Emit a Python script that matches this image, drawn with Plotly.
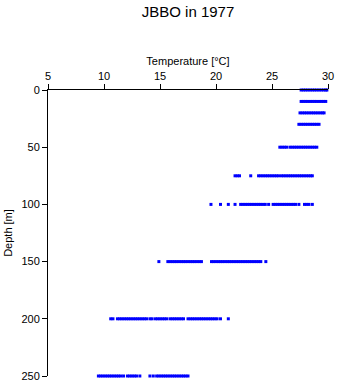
import plotly.graph_objects as go

depths = [0, 10, 20, 30, 50, 75, 100, 150, 200, 250]

temps_0 = [27.6, 27.8, 28.0, 28.2, 28.4, 28.6, 28.8, 29.0, 29.2, 29.4, 29.6, 29.8, 29.9]
temps_10 = [27.6, 27.8, 28.0, 28.2, 28.4, 28.6, 28.8, 29.0, 29.2, 29.4, 29.6, 29.8]
temps_20 = [27.5, 27.7, 27.9, 28.1, 28.3, 28.5, 28.7, 28.9, 29.1, 29.3, 29.5, 29.65]
temps_30 = [27.4, 27.6, 27.8, 28.0, 28.2, 28.4, 28.6, 28.8, 29.0, 29.2]
temps_50 = [25.7, 25.9, 26.1, 26.3, 26.6, 26.8, 27.0, 27.2, 27.4, 27.6, 27.8, 28.0,
            28.2, 28.4, 28.6, 28.8, 29.0]
temps_75 = [21.7, 21.9, 22.1, 23.1, 23.8, 24.0, 24.2, 24.4, 24.6, 24.8, 25.0, 25.2,
            25.4, 25.6, 25.85, 26.05, 26.25, 26.45, 26.65, 26.85, 27.05, 27.25,
            27.45, 27.65, 27.85, 28.05, 28.25, 28.45, 28.6]
temps_100 = [19.55, 20.4, 21.1, 21.7, 22.2, 22.4, 22.6, 22.8, 23.0, 23.2, 23.4, 23.6,
             23.8, 24.0, 24.2, 24.4, 24.7, 25.1, 25.3, 25.5, 25.7, 25.9, 26.1, 26.3,
             26.5, 26.7, 26.9, 27.1, 27.4, 27.9, 28.1, 28.3, 28.6]
temps_150 = [14.9, 15.7, 15.9, 16.1, 16.3, 16.5, 16.7, 16.9, 17.1, 17.3, 17.5, 17.7,
             17.9, 18.1, 18.3, 18.5, 18.7, 19.6, 19.8, 20.0, 20.2, 20.4, 20.6, 20.8,
             21.0, 21.2, 21.4, 21.6, 21.8, 22.0, 22.2, 22.4, 22.6, 22.8, 23.0, 23.2,
             23.4, 23.6, 23.8, 24.0, 24.45]
temps_200 = [10.6, 10.8, 11.2, 11.4, 11.6, 11.8, 12.0, 12.2, 12.4, 12.6, 12.8, 13.0,
             13.2, 13.4, 13.6, 13.8, 14.1, 14.3, 14.6, 14.8, 15.0, 15.2, 15.4, 15.6,
             15.9, 16.1, 16.3, 16.5, 16.7, 16.9, 17.1, 17.5, 17.7, 17.9, 18.1, 18.3,
             18.5, 18.7, 18.9, 19.1, 19.3, 19.5, 19.7, 19.9, 20.1, 20.4, 21.1]
temps_250 = [9.5, 9.7, 9.9, 10.1, 10.3, 10.5, 10.7, 10.9, 11.1, 11.3, 11.5, 11.75,
             12.1, 12.3, 12.5, 12.7, 12.9, 13.2, 14.1, 14.4, 14.7, 14.9, 15.1, 15.3,
             15.5, 15.7, 15.9, 16.1, 16.3, 16.5, 16.7, 16.9, 17.1, 17.3, 17.5]

temp_lists = [temps_0, temps_10, temps_20, temps_30, temps_50, temps_75,
              temps_100, temps_150, temps_200, temps_250]

x_ticks = [5, 10, 15, 20, 25, 30]
y_ticks = [0, 50, 100, 150, 200, 250]

xs, ys = [], []
for d, tl in zip(depths, temp_lists):
    xs.extend(tl)
    ys.extend([d] * len(tl))

fig = go.Figure()
fig.add_trace(go.Scatter(
    x=xs, y=ys, mode="markers",
    marker=dict(symbol="square", size=3, color="#0000FF", line=dict(width=0)),
    cliponaxis=False, showlegend=False, hoverinfo="x+y",
))

font = "Liberation Sans, Arial, sans-serif"
fig.update_layout(
    width=341, height=384,
    margin=dict(l=48, r=13, t=90, b=8, autoexpand=False),
    paper_bgcolor="white", plot_bgcolor="white",
    font=dict(family=font, size=11, color="black"),
    title=dict(text="JBBO in 1977", x=0.5, xref="paper", xanchor="center",
               y=1 - 12 / 384, yref="container", yanchor="middle",
               font=dict(family=font, size=15, color="black")),
    xaxis=dict(
        side="top", range=[5, 30], tickvals=x_ticks, ticks="outside",
        ticklen=5, tickwidth=1, tickcolor="black",
        showline=True, linecolor="black", linewidth=1, mirror=False,
        showgrid=False, zeroline=False, automargin=False,
        title=dict(text="Temperature [°C]", standoff=1, font=dict(size=11)),
        tickfont=dict(size=11),
    ),
    yaxis=dict(
        range=[250, 0], tickvals=y_ticks, ticks="outside",
        ticklen=5, tickwidth=1, tickcolor="black",
        showline=True, linecolor="black", linewidth=1, mirror=False,
        showgrid=False, zeroline=False, automargin=False,
        title=dict(text="Depth [m]", standoff=6, font=dict(size=11)),
        tickfont=dict(size=11),
    ),
)

fig.write_html("out.html")
